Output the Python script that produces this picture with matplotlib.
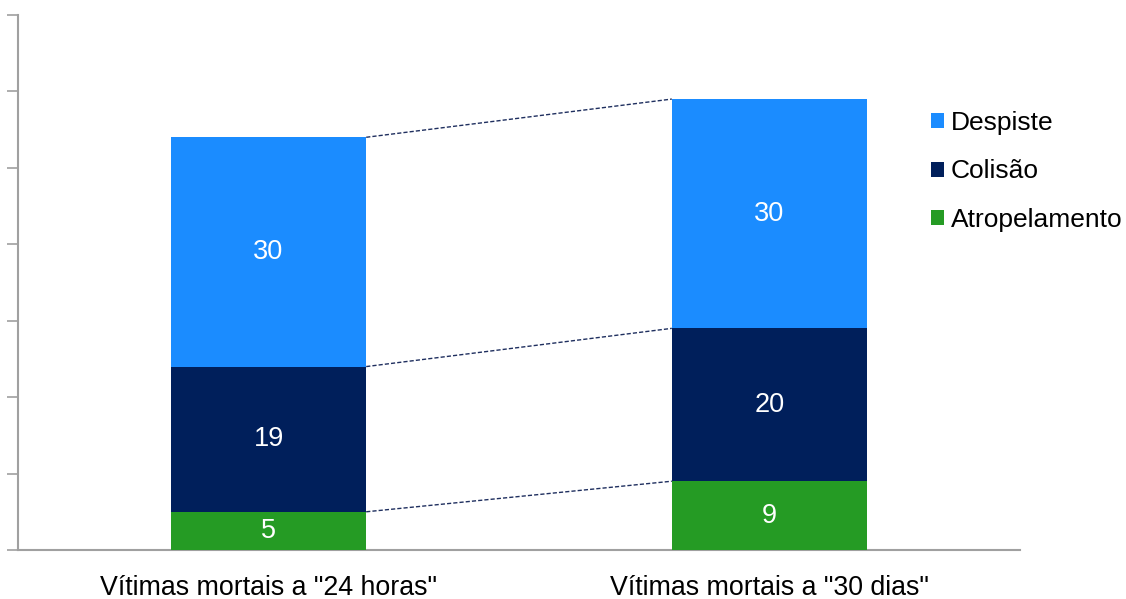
import matplotlib
matplotlib.use("Agg")
import matplotlib.pyplot as plt
import numpy as np

categories = ['Vítimas mortais a "24 horas"', 'Vítimas mortais a "30 dias"']
series_names = ["Atropelamento", "Colisão", "Despiste"]
atropelamento = [5, 9]
colisao = [19, 20]
despiste = [30, 30]
colors = ["#259B24", "#001F5B", "#1B8CFF"]

plt.rcParams['font.family'] = ['Liberation Sans', 'DejaVu Sans']

fig = plt.figure(figsize=(11.26, 5.99), dpi=100)
ax = fig.add_axes([18/1126, 1-550/599, (1020-18)/1126, (550-15)/599])

x = np.arange(len(categories))
width = 0.39
bottoms = np.zeros(len(categories))
for name, vals, c in zip(series_names, [atropelamento, colisao, despiste], colors):
    ax.bar(x, vals, width, bottom=bottoms, color=c, label=name, zorder=3)
    for xi, v, bt in zip(x, vals, bottoms):
        ax.text(xi, bt + v/2, str(v), ha='center', va='center', color='white', fontsize=19.5)
    bottoms = bottoms + np.array(vals)

# connector lines
cum1 = np.cumsum([atropelamento[0], colisao[0], despiste[0]])
cum2 = np.cumsum([atropelamento[1], colisao[1], despiste[1]])
for a, b in zip(cum1, cum2):
    ax.plot([x[0] + width/2, x[1] - width/2], [a, b], linestyle=(0, (3, 1.5)),
            color='#1F2F5F', linewidth=1.0, zorder=2)

ax.set_xlim(-0.5, 1.5)
ax.set_ylim(0, 70)
ax.set_yticks(np.arange(0, 71, 10))
ax.set_yticklabels([])
ax.set_xticks(x)
ax.set_xticklabels(categories, fontsize=19.3)
ax.tick_params(axis='x', length=0, pad=18)
ax.tick_params(axis='y', length=8, width=1.2, color='#A0A0A0', direction='out')
for s in ['top', 'right']:
    ax.spines[s].set_visible(False)
for s in ['left', 'bottom']:
    ax.spines[s].set_color('#A0A0A0')
    ax.spines[s].set_linewidth(1.5)

handles, labels = ax.get_legend_handles_labels()
leg = fig.legend(handles[::-1], labels[::-1], loc='upper left',
                 bbox_to_anchor=(910/1126, 1-90/599), frameon=False,
                 fontsize=19, handlelength=0.5, handleheight=0.5,
                 handletextpad=0.25, labelspacing=0.92, borderpad=0.3)

fig.savefig("out.png", dpi=100)
